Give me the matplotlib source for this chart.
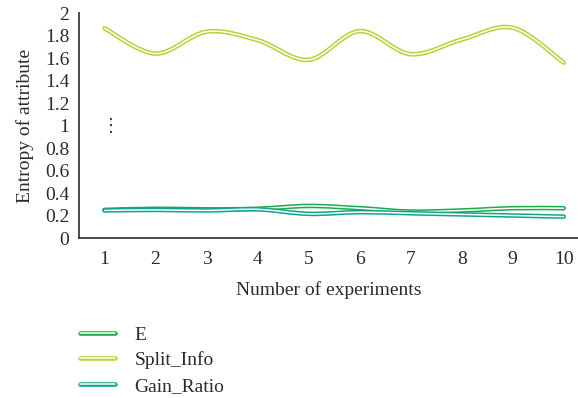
import numpy as np
import matplotlib
matplotlib.use("Agg")
import matplotlib.pyplot as plt
from matplotlib.path import Path
from matplotlib.patches import PathPatch
from matplotlib.lines import Line2D
from matplotlib.legend_handler import HandlerTuple

experiments = [1, 2, 3, 4, 5, 6, 7, 8, 9, 10]
E = [0.25, 0.26, 0.255, 0.26, 0.285, 0.265, 0.235, 0.245, 0.265, 0.265]
split_info = [1.865, 1.64, 1.835, 1.76, 1.585, 1.84, 1.635, 1.765, 1.87, 1.56]
gain_ratio = [0.245, 0.25, 0.245, 0.255, 0.215, 0.23, 0.22, 0.21, 0.2, 0.19]
series_names = ["E", "Split_Info", "Gain_Ratio"]
colors = ["#1daa4e", "#b6d33a", "#0ea58c"]
yticks = [0, 0.2, 0.4, 0.6, 0.8, 1, 1.2, 1.4, 1.6, 1.8, 2]
ytick_labels = ["0", "0.2", "0.4", "0.6", "0.8", "1", "1.2", "1.4", "1.6", "1.8", "2"]

plt.rcParams['font.family'] = ['Liberation Serif', 'DejaVu Serif']

fig = plt.figure(figsize=(5.78, 3.98), dpi=100)
ax = fig.add_axes([0.1367, 0.402, 0.8633, 0.565])


def smooth_path(xs, ys):
    xs = np.asarray(xs, float)
    ys = np.asarray(ys, float)
    n = len(xs)
    verts = [(xs[0], ys[0])]
    codes = [Path.MOVETO]
    for i in range(n - 1):
        p0 = (xs[max(i - 1, 0)], ys[max(i - 1, 0)])
        p1 = (xs[i], ys[i])
        p2 = (xs[i + 1], ys[i + 1])
        p3 = (xs[min(i + 2, n - 1)], ys[min(i + 2, n - 1)])
        c1 = (p1[0] + (p2[0] - p0[0]) / 6, p1[1] + (p2[1] - p0[1]) / 6)
        c2 = (p2[0] - (p3[0] - p1[0]) / 6, p2[1] - (p3[1] - p1[1]) / 6)
        verts += [c1, c2, p2]
        codes += [Path.CURVE4] * 3
    return Path(verts, codes)


all_series = [E, split_info, gain_ratio]
handles = []
for vals, col, name in zip(all_series, colors, series_names):
    p = smooth_path(experiments, vals)
    ax.add_patch(PathPatch(p, facecolor='none', edgecolor=col, lw=3.3,
                           capstyle='round', joinstyle='round'))
    ax.add_patch(PathPatch(p, facecolor='none', edgecolor='white', lw=1.1,
                           capstyle='round', joinstyle='round'))
    h1 = Line2D([], [], color=col, lw=3.3, solid_capstyle='round')
    h2 = Line2D([], [], color='white', lw=1.1, solid_capstyle='round')
    handles.append((h1, h2))

ax.set_xlim(0.5, 10.28)
ax.set_ylim(0, 2)
ax.set_xticks(experiments)
ax.set_xticklabels([str(v) for v in experiments])
ax.set_yticks(yticks)
ax.set_yticklabels(ytick_labels)
ax.tick_params(length=0, labelsize=14, colors='#2b2b2b', pad=7)
ax.tick_params(axis='x', pad=9)
for s in ['top', 'right']:
    ax.spines[s].set_visible(False)
for s in ['left', 'bottom']:
    ax.spines[s].set_color('#3a3a3a')
    ax.spines[s].set_linewidth(1.3)

ax.set_ylabel("Entropy of attribute", fontsize=14, color='#2b2b2b', labelpad=8)
ax.set_xlabel("Number of experiments", fontsize=14, color='#2b2b2b', labelpad=10)

ax.text(1.12, 1.0, "\u22ee", fontsize=13, ha='center', va='center',
        color='#333333', family=['DejaVu Sans'])

fig.legend(handles, series_names, handler_map={tuple: HandlerTuple(ndivide=1)},
           loc='upper left', bbox_to_anchor=(0.115, 0.215), frameon=False,
           fontsize=14, handlelength=1.8, labelspacing=0.4, handletextpad=1.0,
           labelcolor='#2b2b2b', borderpad=0.2)

fig.savefig("out.png", dpi=100)
